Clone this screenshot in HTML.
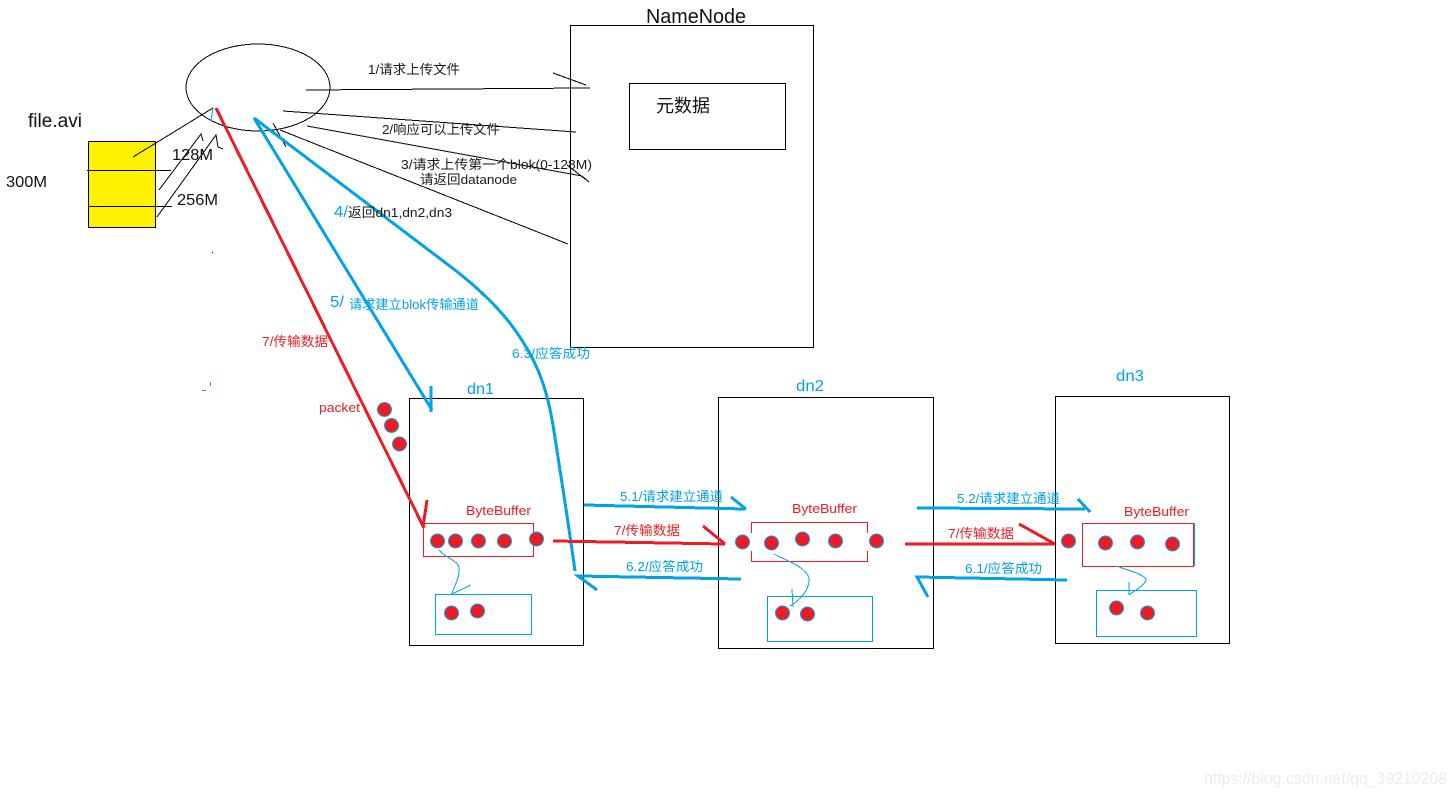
<!DOCTYPE html>
<html><head><meta charset="utf-8"><style>
html,body{margin:0;padding:0;background:#fff;width:1456px;height:796px;overflow:hidden}
svg{display:block}
text{font-family:"Liberation Sans","Noto Sans CJK SC",sans-serif;white-space:pre}
.k{fill:#1a1a1a;font-size:13px}
.b{fill:#00a2e8;font-size:13px}
.r{fill:#ed1c24;font-size:13px}
.lk{stroke:#000;stroke-width:1;fill:none;shape-rendering:crispEdges}
.lb{stroke:#00a2e8;stroke-width:3;fill:none;shape-rendering:crispEdges}
.lr{stroke:#ed1c24;stroke-width:3;fill:none;shape-rendering:crispEdges}
.tb{stroke:#00a2e8;stroke-width:1;fill:none;shape-rendering:crispEdges}
.d{fill:#ed1c24;stroke:#00a2e8;stroke-width:1}
</style></head><body>
<svg width="1456" height="796" viewBox="0 0 1456 796" xmlns="http://www.w3.org/2000/svg">
<rect x="0" y="0" width="1456" height="796" fill="#fff"/>
<rect x="88.500" y="141.500" width="67" height="86" fill="#fff200" stroke="#000" shape-rendering="crispEdges"/>
<ellipse cx="258" cy="87.500" rx="72" ry="43.500" class="lk"/>
<rect x="570.500" y="25.500" width="243" height="322" class="lk"/>
<rect x="629.500" y="83.500" width="156" height="66" class="lk"/>
<rect x="409.500" y="398.500" width="174" height="247" class="lk"/>
<rect x="718.500" y="397.500" width="215" height="251" class="lk"/>
<rect x="1055.500" y="396.500" width="174" height="247" class="lk"/>
<path class="lk" d="M133 157L213 108M87 170.500H171M88 206.500H172M159 190L201 134L203 141M157 217L216 135L218 147L223 149"/>
<path class="tb" d="M213 108L211 121"/>
<path class="lk" d="M306 90L590 88M553 73L586 85M283 111L576 132M307 126L582 176L589 182M567 165L589 182M280 130L568 244M273 123L286 147"/>
<path class="lb" d="M254 118L432 410"/>
<path class="lb" d="M431 386L431 412"/>
<path class="lb" d="M254 118L340 183L455 270C478 288 505 312 523 342C540 368 548 395 553 425C560 470 568 520 575 571"/>
<path class="lr" d="M216 108L424 528M427 500L423 527"/>
<rect x="423.500" y="523.500" width="110" height="33" fill="none" stroke="#ed1c24" shape-rendering="crispEdges"/>
<path d="M751.500 533V522.500H867.500V533M751.500 551V561.500H867.500V551" fill="none" stroke="#ed1c24" shape-rendering="crispEdges"/>
<rect x="1082.500" y="523.500" width="111" height="43" fill="none" stroke="#ed1c24" shape-rendering="crispEdges"/>
<path class="tb" d="M1194.500 523V566"/>
<rect x="435.500" y="594.500" width="96" height="40" class="tb"/>
<rect x="767.500" y="596.500" width="105" height="45" class="tb"/>
<rect x="1096.500" y="590.500" width="100" height="46" class="tb"/>
<path class="tb" d="M439 550C445 558 458 560 459 568C460 578 453 588 452 594L471 585"/>
<path class="tb" d="M774 554C785 560 805 566 809 578C810 590 800 600 790 606M792 589L793 607"/>
<path class="tb" d="M1117 566C1125 570 1140 572 1146 579C1146 585 1135 590 1129 595M1129 582V595"/>
<path class="lr" d="M553 541L725 544M703 526L725 544"/>
<path class="lr" d="M905 544L1055 544M1019 524L1055 544"/>
<path class="lb" d="M584 505L745 509M731 497L746 509"/>
<path class="lb" d="M917 508L1085 509M1078 499L1090 512"/>
<path class="lb" d="M741 579L578 576L597 590"/>
<path class="lb" d="M1067 580L917 577L928 597"/>
<path class="tb" d="M202 390.500H206M210.500 382V386"/>
<circle cx="212.500" cy="252.500" r="0.600" fill="#000"/>
<g class="d">
<circle cx="384.500" cy="409.500" r="7"/><circle cx="391.500" cy="425.500" r="7"/><circle cx="399.500" cy="444" r="7"/>
<circle cx="437.500" cy="541" r="7"/><circle cx="455.500" cy="541" r="7"/><circle cx="478.500" cy="541" r="7"/><circle cx="504.500" cy="541" r="7"/><circle cx="536.500" cy="539" r="7"/>
<circle cx="451.500" cy="613" r="7"/><circle cx="477.500" cy="611" r="7"/>
<circle cx="742.500" cy="542" r="7"/><circle cx="771.500" cy="543" r="7"/><circle cx="802.500" cy="539" r="7"/><circle cx="835.500" cy="541" r="7"/><circle cx="876.500" cy="541" r="7"/>
<circle cx="782.500" cy="613" r="7"/><circle cx="807.500" cy="614" r="7"/>
<circle cx="1068.500" cy="541" r="7"/><circle cx="1105.500" cy="543" r="7"/><circle cx="1137.500" cy="542" r="7"/><circle cx="1172.500" cy="544" r="7"/>
<circle cx="1116.500" cy="608" r="7"/><circle cx="1147.500" cy="613" r="7"/>
</g>
<text x="646" y="23" font-size="20" fill="#111" textLength="100" lengthAdjust="spacingAndGlyphs">NameNode</text>
<text x="656" y="112" font-size="18" fill="#111" textLength="54" lengthAdjust="spacingAndGlyphs">元数据</text>
<text x="28" y="127" font-size="19" fill="#111" textLength="54" lengthAdjust="spacingAndGlyphs">file.avi</text>
<text x="6" y="187" font-size="16" fill="#111" textLength="41" lengthAdjust="spacingAndGlyphs">300M</text>
<text x="172" y="160" font-size="16" fill="#111" textLength="41" lengthAdjust="spacingAndGlyphs">128M</text>
<text x="177" y="205" font-size="16" fill="#111" textLength="41" lengthAdjust="spacingAndGlyphs">256M</text>
<text class="k" x="368" y="74" textLength="92" lengthAdjust="spacingAndGlyphs">1/请求上传文件</text>
<text class="k" x="382" y="134" textLength="118" lengthAdjust="spacingAndGlyphs">2/响应可以上传文件</text>
<text class="k" x="401" y="169" textLength="191" lengthAdjust="spacingAndGlyphs">3/请求上传第一个blok(0-128M)</text>
<text class="k" x="420" y="184" textLength="97" lengthAdjust="spacingAndGlyphs">请返回datanode</text>
<text x="334" y="217" font-size="16" fill="#00a2e8" textLength="14" lengthAdjust="spacingAndGlyphs">4/</text>
<text class="k" x="348" y="217" textLength="104" lengthAdjust="spacingAndGlyphs">返回dn1,dn2,dn3</text>
<text x="330" y="307" font-size="16" fill="#00a2e8" textLength="14" lengthAdjust="spacingAndGlyphs">5/</text>
<text class="b" x="349" y="309" textLength="130" lengthAdjust="spacingAndGlyphs">请求建立blok传输通道</text>
<text class="b" x="512" y="358" textLength="78" lengthAdjust="spacingAndGlyphs">6.3/应答成功</text>
<text class="r" x="262" y="346" textLength="66" lengthAdjust="spacingAndGlyphs">7/传输数据</text>
<text class="r" x="319" y="412" textLength="41" lengthAdjust="spacingAndGlyphs">packet</text>
<text x="467" y="394" font-size="16" fill="#00a2e8" textLength="27" lengthAdjust="spacingAndGlyphs">dn1</text>
<text x="796" y="391" font-size="16" fill="#00a2e8" textLength="28" lengthAdjust="spacingAndGlyphs">dn2</text>
<text x="1116" y="381" font-size="16" fill="#00a2e8" textLength="28" lengthAdjust="spacingAndGlyphs">dn3</text>
<text class="r" x="466" y="515" textLength="65" lengthAdjust="spacingAndGlyphs">ByteBuffer</text>
<text class="r" x="792" y="513" textLength="65" lengthAdjust="spacingAndGlyphs">ByteBuffer</text>
<text class="r" x="1124" y="516" textLength="65" lengthAdjust="spacingAndGlyphs">ByteBuffer</text>
<text class="b" x="620" y="501" textLength="103" lengthAdjust="spacingAndGlyphs">5.1/请求建立通道</text>
<text class="b" x="957" y="503" textLength="103" lengthAdjust="spacingAndGlyphs">5.2/请求建立通道</text>
<text class="r" x="614" y="535" textLength="66" lengthAdjust="spacingAndGlyphs">7/传输数据</text>
<text class="r" x="948" y="538" textLength="66" lengthAdjust="spacingAndGlyphs">7/传输数据</text>
<text class="b" x="626" y="571" textLength="77" lengthAdjust="spacingAndGlyphs">6.2/应答成功</text>
<text class="b" x="965" y="573" textLength="77" lengthAdjust="spacingAndGlyphs">6.1/应答成功</text>
<text x="1204" y="784" font-size="17" fill="#ececec" textLength="243" lengthAdjust="spacingAndGlyphs">https://blog.csdn.net/qq_39210208</text>
</svg>
</body></html>
